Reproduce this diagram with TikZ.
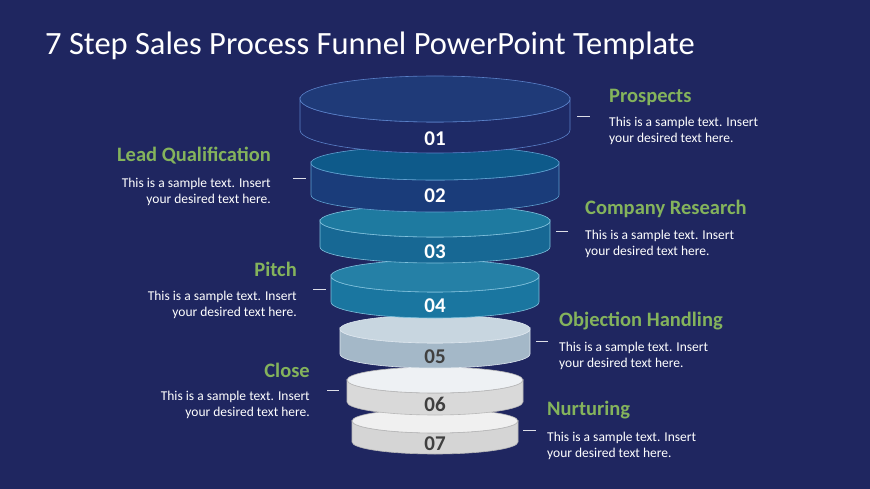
\documentclass[tikz,border=0pt]{standalone}
\usepackage{fontspec}
\setmainfont{Carlito}
\usetikzlibrary{positioning}
\definecolor{slidebg}{HTML}{1F2660}
\definecolor{headgreen}{HTML}{84B35C}
\definecolor{numgray}{HTML}{404040}
\tikzset{
  title/.style={font=\fontsize{32.5}{34}\selectfont, text=white, inner sep=0pt, anchor=west},
  heading/.style={font=\bfseries\fontsize{20.5}{22}\selectfont, text=headgreen, inner sep=0pt},
  bodyleft/.style={font=\fontsize{13.5}{16}\selectfont, text=white, align=left, inner sep=0pt, anchor=west},
  bodyright/.style={font=\fontsize{13.5}{16}\selectfont, text=white, align=right, inner sep=0pt, anchor=east},
  tick/.style={draw=white!85!slidebg, line width=0.8pt},
  numlabel/.style={font=\bfseries\fontsize{21}{21}\selectfont, inner sep=0pt}
}

\begin{document}
\begin{tikzpicture}[x=1pt, y=1pt]

        % Hintergrund
        \fill[slidebg] (0,0) rectangle (870,-489);
        \useasboundingbox (0,0) rectangle (870,-489);
        \node (titel) [title] at (45,-46) {7 Step Sales Process Funnel PowerPoint Template};

        % Scheiben, von unten nach oben
        \foreach \cx/\ty/\by/\rx/\ry/\topcol/\sidecol/\edgecol/\numcol/\num/\numy in {
            435/421/442/83/12/F0F0F0/D5D5D5/B8B8B8/numgray/07/444,
            435/380/402/88/13/EEF1F4/D9D9D9/B8B8B8/numgray/06/404,
            435/329/354/95/14/C8D6E0/A4B8C8/DDE6EE/numgray/05/357,
            435/276/302/104/16/2580A6/1A76A0/7FC0DC/white/04/306,
            435/221/247/115/16/1E7AA0/176894/7FC0DC/white/03/252,
            435/163/195/124/17/0E5A8A/1A3C7A/5FA0D0/white/02/196,
            435/99/130/135/23/1F3A78/1E2A66/5A80C8/white/01/139} {
          \definecolor{topfill}{HTML}{\topcol}
          \definecolor{sidefill}{HTML}{\sidecol}
          \definecolor{edge}{HTML}{\edgecol}
          \filldraw[draw=edge, line width=0.6pt, fill=sidefill]
            (\cx-\rx,-\ty) -- (\cx-\rx,-\by)
            arc[start angle=180, end angle=360, x radius=\rx, y radius=\ry]
            -- (\cx+\rx,-\ty)
            arc[start angle=0, end angle=-180, x radius=\rx, y radius=\ry] -- cycle;
          \filldraw[draw=edge, line width=0.6pt, fill=topfill]
            (\cx,-\ty) ellipse[x radius=\rx, y radius=\ry];
          \node (n\num) [numlabel, text=\numcol] at (\cx,-\numy) {\num};
        }

        % Rechte Seite
        \node (prospects) [heading, anchor=west] at (609,-97) {Prospects};
        \node (prosptxt) [bodyleft] at (609,-131) {This is a sample text. Insert\\your desired text here.};
        \node (research) [heading, anchor=west] at (585,-209) {Company Research};
        \node (researchtxt) [bodyleft] at (585,-244) {This is a sample text. Insert\\your desired text here.};
        \node (objection) [heading, anchor=west] at (559,-321) {Objection Handling};
        \node (objectiontxt) [bodyleft] at (559,-356) {This is a sample text. Insert\\your desired text here.};
        \node (nurturing) [heading, anchor=west] at (547,-410) {Nurturing};
        \node (nurturingtxt) [bodyleft] at (547,-446) {This is a sample text. Insert\\your desired text here.};

        % Linke Seite
        \node (lead) [heading, anchor=east] at (271,-156) {Lead Qualification};
        \node (leadtxt) [bodyright] at (271,-192) {This is a sample text. Insert\\your desired text here.};
        \node (pitch) [heading, anchor=east] at (297,-269) {Pitch};
        \node (pitchtxt) [bodyright] at (297,-305) {This is a sample text. Insert\\your desired text here.};
        \node (close) [heading, anchor=east] at (310,-370) {Close};
        \node (closetxt) [bodyright] at (310,-405) {This is a sample text. Insert\\your desired text here.};

        % Striche
        \draw [tick] (577,-116) -- (590,-116);
        \draw [tick] (556,-231) -- (568,-231);
        \draw [tick] (536,-341) -- (548,-341);
        \draw [tick] (523,-430) -- (536,-430);
        \draw [tick] (293,-178) -- (306,-178);
        \draw [tick] (313,-289) -- (326,-289);
        \draw [tick] (327,-390) -- (339,-390);
        \end{tikzpicture}
\end{document}
